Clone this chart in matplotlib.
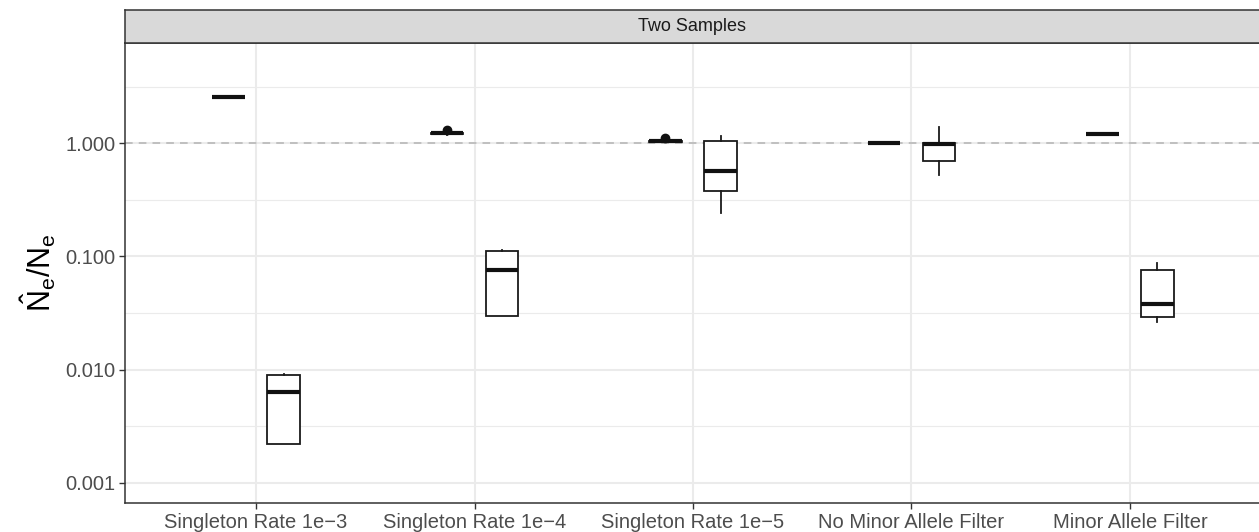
import numpy as np
import matplotlib
matplotlib.use("Agg")
import matplotlib.pyplot as plt
from matplotlib.ticker import FixedLocator, NullFormatter

plt.rcParams['font.family'] = ['Liberation Sans', 'DejaVu Sans']
plt.rcParams['mathtext.fontset'] = 'custom'
plt.rcParams['mathtext.rm'] = 'Liberation Sans'
plt.rcParams['mathtext.it'] = 'Liberation Sans'

categories = ["Singleton Rate 1e\u22123", "Singleton Rate 1e\u22124",
              "Singleton Rate 1e\u22125", "No Minor Allele Filter",
              "Minor Allele Filter"]

# box summaries, left box of each pair
a_lo = [2.52, 1.19, 1.03, 1.0, 1.20]
a_q1 = [2.54, 1.21, 1.035, 1.0, 1.205]
a_med = [2.56, 1.22, 1.04, 1.0, 1.21]
a_q3 = [2.58, 1.23, 1.045, 1.0, 1.215]
a_hi = [2.62, 1.24, 1.05, 1.0, 1.22]
a_out = [[], [1.30], [1.11], [], []]

# right box of each pair
b_lo = [0.0022, 0.0296, 0.244, 0.521, 0.0266]
b_q1 = [0.0022, 0.0296, 0.378, 0.697, 0.0294]
b_med = [0.0064, 0.0767, 0.569, 0.99, 0.0381]
b_q3 = [0.0090, 0.111, 1.048, 1.01, 0.0762]
b_hi = [0.0091, 0.115, 1.16, 1.39, 0.0879]
b_out = [[], [], [], [], []]

yticks = [0.001, 0.01, 0.1, 1.0]
ytick_labels = ["0.001", "0.010", "0.100", "1.000"]


def make_stats(lo, q1, med, q3, hi, out):
    return [dict(whislo=lo[i], q1=q1[i], med=med[i], q3=q3[i], whishi=hi[i],
                 fliers=out[i]) for i in range(len(lo))]


W, H, DPI = 1259, 532, 100
fig = plt.figure(figsize=(W / DPI, H / DPI), dpi=DPI)

px_left, px_right, px_top, px_bot = 125, 1261, 43, 503
ax = fig.add_axes([px_left / W, 1 - px_bot / H,
                   (px_right - px_left) / W, (px_bot - px_top) / H])
strip = fig.add_axes([px_left / W, 1 - px_top / H,
                      (px_right - px_left) / W, (px_top - 9.5) / H])

x = np.arange(1, len(categories) + 1)
off = 0.126
bw = 0.15
box_kw = dict(widths=bw, patch_artist=True, showcaps=False,
              boxprops=dict(facecolor='white', edgecolor='#1a1a1a', linewidth=1.3),
              whiskerprops=dict(color='#1a1a1a', linewidth=1.3),
              medianprops=dict(color='#111111', linewidth=3.0, solid_capstyle='butt'),
              flierprops=dict(marker='o', markerfacecolor='#111111',
                              markeredgecolor='#111111', markersize=6),
              manage_ticks=False, zorder=3)

ax.bxp(make_stats(a_lo, a_q1, a_med, a_q3, a_hi, a_out), positions=x - off, **box_kw)
ax.bxp(make_stats(b_lo, b_q1, b_med, b_q3, b_hi, b_out), positions=x + off, **box_kw)

ax.axhline(1.0, color='#b3b3b3', linestyle=(0, (5, 4)), linewidth=1.1, zorder=2)

ax.set_yscale('log')
ax.set_ylim(10 ** (-3 - 20 / 113), 10 ** (100 / 113))
ax.set_xlim(0.4, 5.6)

ax.yaxis.set_major_locator(FixedLocator(yticks))
ax.set_yticklabels(ytick_labels)
ax.yaxis.set_minor_locator(FixedLocator([10 ** (k + 0.5) for k in range(-4, 1)]))
ax.yaxis.set_minor_formatter(NullFormatter())
ax.set_xticks(x)
ax.set_xticklabels(categories)

ax.grid(which='major', color='#ebebeb', linewidth=1.5, zorder=0)
ax.grid(which='minor', axis='y', color='#ebebeb', linewidth=0.8, zorder=0)
ax.set_axisbelow(True)

ax.tick_params(axis='both', which='major', length=4, width=1.0, color='#333333',
               labelsize=14.5, labelcolor='#4d4d4d', pad=3)
ax.tick_params(axis='y', which='minor', length=0)
for s in ax.spines.values():
    s.set_color('#333333')
    s.set_linewidth(1.1)

ax.set_ylabel(r'$\hat{\mathrm{N}}_{\mathrm{e}}/\mathrm{N}_{\mathrm{e}}$',
              fontsize=22, color='black', labelpad=5)

strip.set_facecolor('#d9d9d9')
strip.set_xticks([])
strip.set_yticks([])
for s in strip.spines.values():
    s.set_color('#333333')
    s.set_linewidth(1.1)
strip.text(0.5 * (W - px_left) / (px_right - px_left), 0.5, "Two Samples",
           transform=strip.transAxes, ha='center', va='center',
           fontsize=13, color='#1a1a1a')

fig.savefig("out.png", dpi=DPI)
